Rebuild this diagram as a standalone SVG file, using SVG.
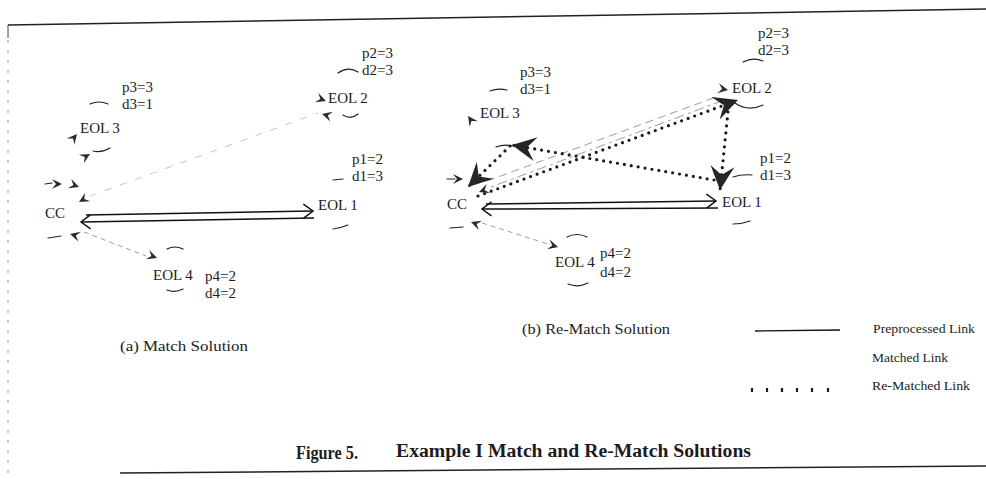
<svg xmlns="http://www.w3.org/2000/svg" xmlns:xlink="http://www.w3.org/1999/xlink" width="986" height="479" viewBox="0 0 986 479">
<style>
  .t{font-family:"Liberation Serif","Times New Roman",serif;font-size:15px;fill:#1c1c1c}
  .cap{font-size:15px}
  .leg{font-size:12.5px}
  .ttl{font-size:18px;font-weight:bold}
  .arc{fill:none;stroke:#222;stroke-width:1.2;stroke-linecap:round}
  .pre{fill:none;stroke:#111;stroke-width:1.5}
  .mt{fill:none;stroke:#9c9c9c;stroke-width:1}
  .mtf{fill:none;stroke:#c6c6c6;stroke-width:1;stroke-dasharray:7 9}
  .rem{fill:none;stroke:#1a1a1a;stroke-width:3.2;stroke-linecap:round;stroke-dasharray:0 7}
  .sb{fill:#2a2a2a}
  .frame{fill:none;stroke:#222;stroke-width:1.5}
</style>
<defs>
  <marker id="open" viewBox="0 0 12 16" refX="10.5" refY="8" markerWidth="12" markerHeight="16" markerUnits="userSpaceOnUse" orient="auto">
    <path d="M1,1 L10.5,8 L1,15" fill="none" stroke="#111" stroke-width="1.5"/>
  </marker>
  <marker id="big" viewBox="-26 -13 28 26" refX="0" refY="0" markerWidth="28" markerHeight="26" markerUnits="userSpaceOnUse" orient="auto">
    <path d="M0,0 L-24,-12 L-15,0 L-24,12 Z" fill="#262626"/>
  </marker>
  <path id="sb" class="sb" d="M0,0 L-10,-5 L-6,0 L-10,5 Z"/>
</defs>
<rect width="986" height="479" fill="#fff"/>

<g id="frame">
  <path class="frame" d="M8,25 L986,9"/>
  <path d="M8,25 L8,38" stroke="#444" stroke-width="1" fill="none"/>
  <path d="M8,40 L8,479" stroke="#9a9a9a" stroke-width="1" stroke-dasharray="3 7" fill="none"/>
  <path class="frame" d="M120,473 L986,466"/>
</g>

<!-- Panel (a) nodes -->
<g id="a-cc">
  <text class="t" x="45" y="218">CC</text>
  <path class="arc" d="M48,238 L61,236"/>
  <path class="arc" d="M45,184 L52,183"/>
</g>
<g id="a-eol1">
  <text class="t" x="318" y="210">EOL 1</text>
  <text class="t" x="352" y="164">p1=2</text>
  <text class="t" x="352" y="181">d1=3</text>
  <path class="arc" d="M333,180 L343,179"/>
  <path class="arc" d="M333,229 Q341,228 348,225"/>
</g>
<g id="a-eol2">
  <text class="t" x="328" y="103">EOL 2</text>
  <text class="t" x="362" y="58">p2=3</text>
  <text class="t" x="362" y="75">d2=3</text>
  <path class="arc" d="M338,73 Q348,66 358,72"/>
  <path class="arc" d="M343,115 Q351,120 358,114"/>
</g>
<g id="a-eol3">
  <text class="t" x="80" y="133">EOL 3</text>
  <text class="t" x="122" y="92">p3=3</text>
  <text class="t" x="122" y="109">d3=1</text>
  <path class="arc" d="M90,104 Q99,100 108,104"/>
  <path class="arc" d="M93,151 Q102,153 110,148"/>
</g>
<g id="a-eol4">
  <text class="t" x="153" y="280">EOL 4</text>
  <text class="t" x="205" y="281">p4=2</text>
  <text class="t" x="205" y="298">d4=2</text>
  <path class="arc" d="M167,249 Q175,245 183,249"/>
  <path class="arc" d="M167,290 Q175,293 183,289"/>
</g>

<!-- Panel (b) nodes -->
<g id="b-cc">
  <text class="t" x="447" y="209">CC</text>
  <path class="arc" d="M450,228 L463,227"/>
  <path class="arc" d="M447,179 L455,179"/>
</g>
<g id="b-eol1">
  <text class="t" x="722" y="207">EOL 1</text>
  <text class="t" x="760" y="163">p1=2</text>
  <text class="t" x="760" y="180">d1=3</text>
  <path class="arc" d="M733,177 Q742,174 752,175"/>
  <path class="arc" d="M733,224 Q742,224 750,221"/>
</g>
<g id="b-eol2">
  <text class="t" x="732" y="93">EOL 2</text>
  <text class="t" x="758" y="38">p2=3</text>
  <text class="t" x="758" y="55">d2=3</text>
  <path class="arc" d="M743,62 Q753,57 763,61"/>
  <path class="arc" d="M735,103 Q748,112 763,105"/>
</g>
<g id="b-eol3">
  <text class="t" x="480" y="118">EOL 3</text>
  <text class="t" x="520" y="77">p3=3</text>
  <text class="t" x="520" y="94">d3=1</text>
  <path class="arc" d="M490,91 Q498,88 507,90"/>
  <path class="arc" d="M496,147 Q504,144 512,146"/>
</g>
<g id="b-eol4">
  <text class="t" x="555" y="267">EOL 4</text>
  <text class="t" x="600" y="258">p4=2</text>
  <text class="t" x="600" y="277">d4=2</text>
  <path class="arc" d="M567,237 Q577,232 587,237"/>
  <path class="arc" d="M568,284 Q578,288 588,283"/>
</g>

<g id="connectors">
  <!-- panel (a) -->
  <path class="pre" d="M86,215 L313,211" marker-end="url(#open)"/>
  <path class="pre" d="M314,218 L81,222" marker-end="url(#open)"/>
  <path class="mtf" d="M90,196 L318,113"/>
  <path class="mt" stroke-dasharray="5 4" d="M84,232 L146,256"/>
  <use xlink:href="#sb" transform="translate(326,101) rotate(20)"/>
  <use xlink:href="#sb" transform="translate(322,114) rotate(195)"/>
  <use xlink:href="#sb" transform="translate(77,134) rotate(-50)"/>
  <use xlink:href="#sb" transform="translate(90,154) rotate(-30)"/>
  <use xlink:href="#sb" transform="translate(62,184) rotate(0)"/>
  <use xlink:href="#sb" transform="translate(79,187) rotate(20)"/>
  <use xlink:href="#sb" transform="translate(79,202) rotate(150)"/>
  <use xlink:href="#sb" transform="translate(70,234) rotate(195)"/>
  <use xlink:href="#sb" transform="translate(157,258) rotate(20)"/>
  <!-- panel (b) -->
  <path class="pre" d="M486,204 L716,201" marker-end="url(#open)"/>
  <path class="pre" d="M718,208 L482,209" marker-end="url(#open)"/>
  <path class="mt" stroke-dasharray="8 5" d="M487,181 L716,97"/>
  <path class="mt" stroke-dasharray="3 4 10 4" d="M491,187 L719,102"/>
  <path class="mt" stroke-dasharray="5 4" d="M482,223 L551,245"/>
  <path class="rem" d="M478,196 L738,100" marker-end="url(#big)"/>
  <path class="rem" d="M714,180 L512,145" marker-end="url(#big)"/>
  <path class="rem" d="M510,146 L468,187" marker-end="url(#big)"/>
  <path class="rem" d="M728,112 L720,190" marker-end="url(#big)"/>
  <use xlink:href="#sb" transform="translate(728,90) rotate(10)"/>
  <use xlink:href="#sb" transform="translate(468,116) rotate(-125)"/>
  <use xlink:href="#sb" transform="translate(463,179) rotate(0)"/>
  <use xlink:href="#sb" transform="translate(479,192) rotate(160)"/>
  <use xlink:href="#sb" transform="translate(471,222) rotate(200)"/>
  <use xlink:href="#sb" transform="translate(558,247) rotate(15)"/>
</g>

<g id="captions">
  <text class="t cap" x="120" y="351" textLength="128" lengthAdjust="spacingAndGlyphs">(a) Match Solution</text>
  <text class="t cap" x="522" y="334" textLength="148" lengthAdjust="spacingAndGlyphs">(b) Re-Match Solution</text>
</g>

<g id="legend">
  <path d="M755,331 L840,330" stroke="#111" stroke-width="1.3" fill="none"/>
  <text class="t leg" x="873" y="333" textLength="102" lengthAdjust="spacingAndGlyphs">Preprocessed Link</text>
  <text class="t leg" x="872" y="362" textLength="76" lengthAdjust="spacingAndGlyphs">Matched Link</text>
  <path d="M752,388 L752,392 M767,388 L767,392 M782,388 L782,392 M797,388 L797,392 M812,388 L812,392 M828,388 L828,392" stroke="#1a1a1a" stroke-width="2.2" fill="none"/>
  <text class="t leg" x="872" y="390" textLength="98" lengthAdjust="spacingAndGlyphs">Re-Matched Link</text>
</g>

<g id="title">
  <text class="t ttl" x="296" y="459" textLength="62" lengthAdjust="spacingAndGlyphs">Figure 5.</text>
  <text class="t ttl" x="396" y="457" textLength="355" lengthAdjust="spacingAndGlyphs">Example I Match and Re-Match Solutions</text>
</g>
</svg>
